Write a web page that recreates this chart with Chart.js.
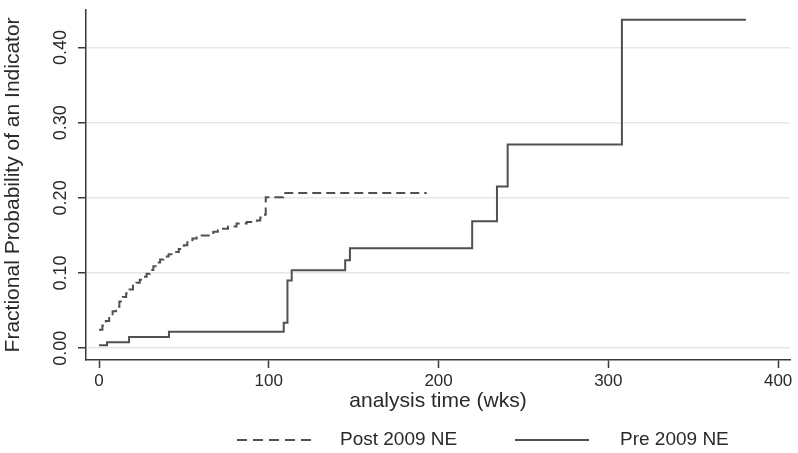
<!DOCTYPE html>
<html>
<head>
<meta charset="utf-8">
<script src="https://cdn.jsdelivr.net/npm/chart.js"></script>
<style>
  html, body { margin: 0; padding: 0; background: #fff; }
</style>
</head>
<body>
<canvas id="myChart" width="798" height="453"></canvas>
<script>
// failure curves (weeks, fraction)
var seriesNames = ["Post 2009 NE", "Pre 2009 NE"];

var postTimes = [0, 2, 4, 6, 8, 10, 12, 14, 16, 18, 20, 22, 24, 26, 28, 30, 32, 34, 36, 38,
                 41, 44, 47, 50, 52, 55, 57.5, 67.3, 70, 72.2, 76, 81, 87, 93, 95, 97.8, 98.2, 108.5, 193];
var postValues = [0.0245, 0.030, 0.036, 0.042, 0.049, 0.055, 0.062, 0.068, 0.073, 0.078, 0.083, 0.087, 0.091, 0.095, 0.099, 0.104, 0.109, 0.114, 0.118, 0.122,
                  0.125, 0.128, 0.132, 0.137, 0.141, 0.146, 0.150, 0.155, 0.157, 0.159, 0.162, 0.166, 0.168, 0.170, 0.174, 0.178, 0.201, 0.2065, 0.2065];

var preTimes = [0, 4.7, 17.7, 41.2, 108.8, 111, 113.5, 145, 147.8, 219.8, 234.4, 240.7, 308, 381];
var preValues = [0.004, 0.008, 0.0148, 0.022, 0.0337, 0.090, 0.1037, 0.117, 0.133, 0.169, 0.215, 0.271, 0.437, 0.437];

var xTicks = [0, 100, 200, 300, 400];
var yTicks = [0, 0.1, 0.2, 0.3, 0.4];

function toPoints(times, values) {
    var pts = [];
    for (var i = 0; i < times.length; i++) {
        pts.push({ x: times[i], y: values[i] });
    }
    return pts;
}

var lineColor = "#505050";
var axisColor = "#3a3a3a";
var textColor = "#2a2a2a";
var fontName = "'Liberation Sans', Arial, sans-serif";

// legend drawn under the plot, Stata style
var bottomLegend = {
    id: "bottomLegend",
    afterDraw: function (chart) {
        var ctx = chart.ctx;
        var y = 440;
        var spots = [{ line: 237, text: 340 }, { line: 515, text: 620 }];
        chart.data.datasets.forEach(function (ds, i) {
            ctx.save();
            ctx.strokeStyle = ds.borderColor;
            ctx.lineWidth = 2;
            ctx.setLineDash(ds.borderDash ? [10, 6] : []);
            ctx.beginPath();
            ctx.moveTo(spots[i].line, y);
            ctx.lineTo(spots[i].line + 74, y);
            ctx.stroke();
            ctx.setLineDash([]);
            ctx.fillStyle = textColor;
            ctx.font = "19px " + fontName;
            ctx.textBaseline = "middle";
            ctx.fillText(ds.label, spots[i].text, y);
            ctx.restore();
        });
    }
};

var myChart = document.getElementById("myChart").getContext("2d");
var kmChart = new Chart(myChart, {
    type: "line",
    data: {
        datasets: [{
            label: seriesNames[0],
            data: toPoints(postTimes, postValues),
            stepped: "before",
            borderColor: lineColor,
            borderWidth: 2,
            borderDash: [9, 5],
            pointRadius: 0,
            fill: false
        }, {
            label: seriesNames[1],
            data: toPoints(preTimes, preValues),
            stepped: "before",
            borderColor: lineColor,
            borderWidth: 2,
            pointRadius: 0,
            fill: false
        }]
    },
    options: {
        responsive: false,
        animation: false,
        layout: { padding: { left: 0, right: 8, top: 5, bottom: 33 } },
        plugins: {
            legend: { display: false },
            tooltip: { enabled: false }
        },
        scales: {
            x: {
                type: "linear",
                min: -7.66,
                max: 407,
                afterBuildTicks: function (scale) {
                    scale.ticks = xTicks.map(function (v) { return { value: v }; });
                },
                afterFit: function (scale) { scale.height = 60; },
                grid: {
                    drawOnChartArea: false,
                    drawTicks: true,
                    tickLength: 8,
                    tickColor: axisColor,
                    tickWidth: 1.5
                },
                border: { color: axisColor, width: 1.5 },
                ticks: {
                    color: textColor,
                    font: { family: fontName, size: 17 },
                    padding: 3,
                    maxRotation: 0
                },
                title: {
                    display: true,
                    text: "analysis time (wks)",
                    color: textColor,
                    font: { family: fontName, size: 21 },
                    padding: { top: 0, bottom: 6 }
                }
            },
            y: {
                type: "linear",
                min: -0.01575,
                max: 0.4503,
                afterBuildTicks: function (scale) {
                    scale.ticks = yTicks.map(function (v) { return { value: v }; });
                },
                afterFit: function (scale) { scale.width = 86; },
                grid: {
                    color: "#e8e8e8",
                    lineWidth: 1.5,
                    drawTicks: true,
                    tickLength: 8,
                    tickColor: axisColor,
                    tickWidth: 1.5
                },
                border: { color: axisColor, width: 1.5 },
                ticks: {
                    color: textColor,
                    font: { family: fontName, size: 18 },
                    minRotation: 90,
                    maxRotation: 90,
                    crossAlign: "center",
                    padding: -1,
                    callback: function (v) { return v.toFixed(2); }
                },
                title: {
                    display: true,
                    text: "Fractional Probability of an Indicator",
                    color: textColor,
                    font: { family: fontName, size: 21 },
                    padding: { top: 1, bottom: 0 }
                }
            }
        }
    },
    plugins: [bottomLegend]
});
</script>
</body>
</html>
